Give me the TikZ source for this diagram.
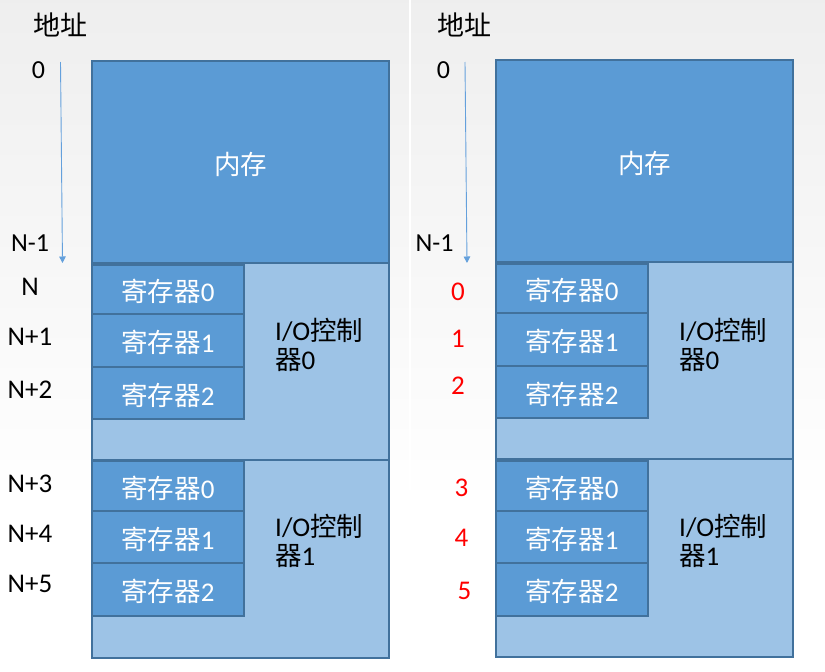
\documentclass[tikz,border=0pt]{standalone}
\usepackage{fontspec}
\setmainfont{Carlito}
\newfontfamily\cjk{Noto Sans CJK SC}
\usetikzlibrary{arrows.meta}
\definecolor{memblue}{RGB}{91,155,213}
\definecolor{edgeblue}{RGB}{65,113,156}
\definecolor{ctrlblue}{RGB}{157,195,230}
\definecolor{arrowblue}{RGB}{100,160,220}
\definecolor{addrred}{RGB}{255,0,0}
\newcommand{\fs}[1]{\fontsize{#1}{#1}\selectfont}
\tikzset{
  box/.style={draw=edgeblue, line width=1.3pt, anchor=north west, inner sep=0pt, outer sep=0pt},
  membox/.style={box, fill=memblue},
  ctrlbox/.style={box, fill=ctrlblue},
  regbox/.style={box, fill=memblue, minimum width=152pt},
  regtext/.style={text=white, inner sep=0pt, yshift=-2pt},
  memtext/.style={text=white, inner sep=0pt, font=\cjk\fs{26.5}},
  ctrltext/.style={text=black, inner sep=0pt, align=left, anchor=west, font=\fs{27}},
  addr/.style={text=black, inner sep=0pt, font=\fs{27}},
  addrtop/.style={text=black, inner sep=0pt, font=\fs{26}},
  addrnum/.style={text=addrred, inner sep=0pt, font=\fs{27}},
  title/.style={text=black, inner sep=0pt, font=\cjk\fs{27}},
  addrarrow/.style={arrowblue, line width=0.9pt, -{Triangle[width=6.5pt,length=6.5pt]}}
}
\newcommand{\reg}[1]{{\cjk\fs{26.5}寄存器}{\fs{27}#1}}
\begin{document}
\begin{tikzpicture}[x=1pt,y=-1pt]
\useasboundingbox (0,0) rectangle (825,672);
\fill[white] (0,0) rectangle (825,672);
\shade[top color=gray!13, bottom color=white] (0,0) rectangle (825,505);
\draw[white, line width=1.5pt] (410,0) -- (410,505);

% ---------- left panel ----------
\node[title] (tL) at (60,25) {地址};
\node[addrtop] (a0L) at (38.5,70) {0};
\node[addrtop] (an1L) at (30,243) {N-1};
\node[addr] (aNL) at (30,287) {N};
\node[addr] (aN1L) at (30,337) {N+1};
\node[addr] (aN2L) at (30,390) {N+2};
\node[addr] (aN3L) at (30,484) {N+3};
\node[addr] (aN4L) at (30,534) {N+4};
\node[addr] (aN5L) at (30,584) {N+5};
\coordinate (arSL) at (60.5,62);
\coordinate (arEL) at (62.5,263);
\draw[addrarrow] (arSL) -- (arEL);

\node[membox, minimum width=297pt, minimum height=202pt] (memL) at (92,61) {};
\node[memtext] (memtL) at (240.5,164) {内存};
\node[ctrlbox, minimum width=297pt, minimum height=197pt] (c0L) at (92,263) {};
\node[ctrlbox, minimum width=297pt, minimum height=198pt] (c1L) at (92,460) {};
\node[regbox, minimum height=49pt] (r00L) at (92,265) {};
\node[regbox, minimum height=53pt] (r01L) at (92,314) {};
\node[regbox, minimum height=52pt] (r02L) at (92,367) {};
\node[regbox, minimum height=50pt] (r10L) at (92,461) {};
\node[regbox, minimum height=52pt] (r11L) at (92,511) {};
\node[regbox, minimum height=53pt] (r12L) at (92,563) {};
\node[regtext] at (r00L.center) {\reg{0}};
\node[regtext] at (r01L.center) {\reg{1}};
\node[regtext] at (r02L.center) {\reg{2}};
\node[regtext] at (r10L.center) {\reg{0}};
\node[regtext] at (r11L.center) {\reg{1}};
\node[regtext] at (r12L.center) {\reg{2}};
\node[ctrltext] (ct0L) at (275,345) {I/O{\cjk\fs{26.5}控制}\\[2pt]{\cjk\fs{26.5}器}0};
\node[ctrltext] (ct1L) at (275,541) {I/O{\cjk\fs{26.5}控制}\\[2pt]{\cjk\fs{26.5}器}1};

% ---------- right panel ----------
\node[title] (tR) at (464.5,25) {地址};
\node[addrtop] (a0R) at (443.5,70) {0};
\node[addrtop] (an1R) at (434.5,243) {N-1};
\node[addrnum] (b0R) at (458,292) {0};
\node[addrnum] (b1R) at (458,339) {1};
\node[addrnum] (b2R) at (458,386) {2};
\node[addrnum] (b3R) at (461.5,488) {3};
\node[addrnum] (b4R) at (461.5,538) {4};
\node[addrnum] (b5R) at (464.5,591) {5};
\coordinate (arSR) at (465,62);
\coordinate (arER) at (467,263);
\draw[addrarrow] (arSR) -- (arER);

\node[membox, minimum width=297pt, minimum height=202pt] (memR) at (496,60) {};
\node[memtext] (memtR) at (644.5,163) {内存};
\node[ctrlbox, minimum width=297pt, minimum height=197pt] (c0R) at (496,262) {};
\node[ctrlbox, minimum width=297pt, minimum height=198pt] (c1R) at (496,459) {};
\node[regbox, minimum height=49pt] (r00R) at (496,264) {};
\node[regbox, minimum height=53pt] (r01R) at (496,313) {};
\node[regbox, minimum height=52pt] (r02R) at (496,366) {};
\node[regbox, minimum height=50pt] (r10R) at (496,461) {};
\node[regbox, minimum height=52pt] (r11R) at (496,511) {};
\node[regbox, minimum height=53pt] (r12R) at (496,563) {};
\node[regtext] at (r00R.center) {\reg{0}};
\node[regtext] at (r01R.center) {\reg{1}};
\node[regtext] at (r02R.center) {\reg{2}};
\node[regtext] at (r10R.center) {\reg{0}};
\node[regtext] at (r11R.center) {\reg{1}};
\node[regtext] at (r12R.center) {\reg{2}};
\node[ctrltext] (ct0R) at (679,345) {I/O{\cjk\fs{26.5}控制}\\[2pt]{\cjk\fs{26.5}器}0};
\node[ctrltext] (ct1R) at (679,541) {I/O{\cjk\fs{26.5}控制}\\[2pt]{\cjk\fs{26.5}器}1};
\end{tikzpicture}
\end{document}
